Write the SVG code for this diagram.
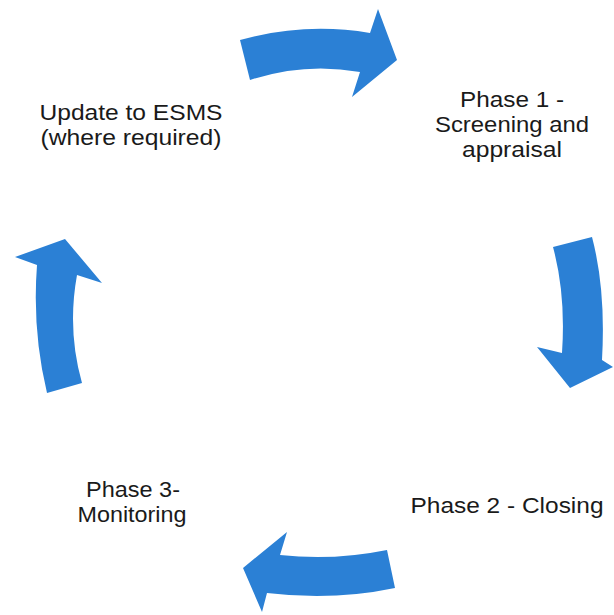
<svg xmlns="http://www.w3.org/2000/svg" width="614" height="615" viewBox="0 0 614 615">
<style>
.arrow{fill:#2B80D5;stroke:none}
.lbl{font-family:"Liberation Sans",Arial,sans-serif;font-size:22px;fill:#1a1a1a;text-anchor:middle}
</style>
<rect width="614" height="615" fill="#ffffff"/>
<g id="connectors">
<path class="arrow" d="M240,40 Q305,22 370,33 L378,9 L397,60 L352,97 L360,72 Q305,62 250,80 Z"/>
<path class="arrow" d="M553,247 Q566,295 562,353 L537,347 L570,388 L613,367 L602,360 Q606,290 592,237 Z"/>
<path class="arrow" d="M387,550 Q333,561 280,555 L287,532 L243,568 L262,612 L267,593 Q333,601 395,588 Z"/>
<path class="arrow" d="M47,393 Q32,330 37,265 L15,257 L65,239 L102,283 L77,275 Q67,330 82,383 Z"/>
</g>
<g id="node-update">
<text class="lbl" x="131" y="120" textLength="183" lengthAdjust="spacingAndGlyphs">Update to ESMS</text>
<text class="lbl" x="131" y="145" textLength="181" lengthAdjust="spacingAndGlyphs">(where required)</text>
</g>
<g id="node-phase1">
<text class="lbl" x="512" y="107" textLength="104" lengthAdjust="spacingAndGlyphs">Phase 1 -</text>
<text class="lbl" x="512" y="132" textLength="154" lengthAdjust="spacingAndGlyphs">Screening and</text>
<text class="lbl" x="512" y="157" textLength="100" lengthAdjust="spacingAndGlyphs">appraisal</text>
</g>
<g id="node-phase2">
<text class="lbl" x="507" y="513" textLength="193" lengthAdjust="spacingAndGlyphs">Phase 2 - Closing</text>
</g>
<g id="node-phase3">
<text class="lbl" x="133" y="497" textLength="94" lengthAdjust="spacingAndGlyphs">Phase 3-</text>
<text class="lbl" x="132" y="522" textLength="109" lengthAdjust="spacingAndGlyphs">Monitoring</text>
</g>
</svg>
